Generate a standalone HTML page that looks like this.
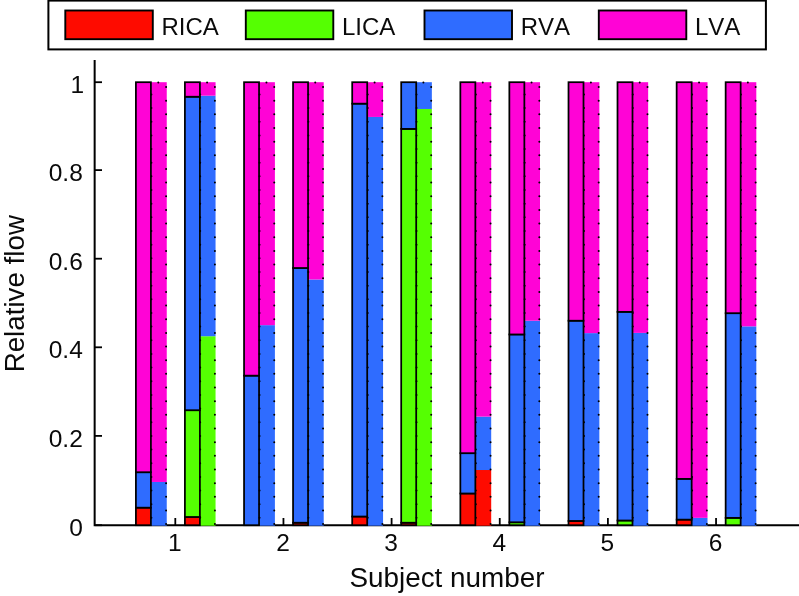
<!DOCTYPE html>
<html><head><meta charset="utf-8"><title>Relative flow</title>
<style>
html,body{margin:0;padding:0;background:#fff;}
body{width:799px;height:596px;overflow:hidden;}
svg{display:block;}
text{font-family:"Liberation Sans",Arial,sans-serif;fill:#0a0a0a;font-kerning:none;}
</style></head><body>
<svg width="799" height="596" viewBox="0 0 799 596">
<rect width="799" height="596" fill="#fff"/>
<path d="M94.65 60V525.2H799" stroke="#000" stroke-width="2" fill="none"/>
<rect x="150.80" y="481.97" width="15.95" height="43.73" fill="#2f6cff"/>
<rect x="150.80" y="82.20" width="15.95" height="399.77" fill="#ff03d6"/>
<rect x="135.90" y="507.67" width="15.00" height="17.53" fill="#fe0b00" stroke="#000" stroke-width="1.75"/>
<rect x="135.90" y="472.23" width="15.00" height="35.44" fill="#2f6cff" stroke="#000" stroke-width="1.75"/>
<rect x="135.90" y="82.20" width="15.00" height="390.03" fill="#ff03d6" stroke="#000" stroke-width="1.75"/>
<rect x="199.60" y="336.23" width="15.95" height="189.47" fill="#55ff02"/>
<rect x="199.60" y="95.68" width="15.95" height="240.55" fill="#2f6cff"/>
<rect x="199.60" y="82.20" width="15.95" height="13.48" fill="#ff03d6"/>
<rect x="184.90" y="516.97" width="15.00" height="8.23" fill="#fe0b00" stroke="#000" stroke-width="1.75"/>
<rect x="184.90" y="410.21" width="15.00" height="106.76" fill="#55ff02" stroke="#000" stroke-width="1.75"/>
<rect x="184.90" y="96.74" width="15.00" height="313.47" fill="#2f6cff" stroke="#000" stroke-width="1.75"/>
<rect x="184.90" y="82.20" width="15.00" height="14.54" fill="#ff03d6" stroke="#000" stroke-width="1.75"/>
<path d="M151.40 94.40V525.20M166.10 87.00V525.20M158.30 82.50h1M200.20 94.40V525.20M214.90 87.00V525.20M207.10 82.50h1" stroke="#000" stroke-width="2" stroke-linecap="round" stroke-dasharray="0 13.66" fill="none"/>
<rect x="258.95" y="325.15" width="15.95" height="200.55" fill="#2f6cff"/>
<rect x="258.95" y="82.20" width="15.95" height="242.95" fill="#ff03d6"/>
<rect x="244.05" y="375.65" width="15.00" height="149.55" fill="#2f6cff" stroke="#000" stroke-width="1.75"/>
<rect x="244.05" y="82.20" width="15.00" height="293.45" fill="#ff03d6" stroke="#000" stroke-width="1.75"/>
<rect x="307.75" y="279.52" width="15.95" height="246.18" fill="#2f6cff"/>
<rect x="307.75" y="82.20" width="15.95" height="197.32" fill="#ff03d6"/>
<rect x="293.05" y="522.73" width="15.00" height="2.47" fill="#fe0b00" stroke="#000" stroke-width="1.75"/>
<rect x="293.05" y="268.00" width="15.00" height="254.72" fill="#2f6cff" stroke="#000" stroke-width="1.75"/>
<rect x="293.05" y="82.20" width="15.00" height="185.80" fill="#ff03d6" stroke="#000" stroke-width="1.75"/>
<path d="M259.55 94.40V525.20M274.25 87.00V525.20M266.45 82.50h1M308.35 94.40V525.20M323.05 87.00V525.20M315.25 82.50h1" stroke="#000" stroke-width="2" stroke-linecap="round" stroke-dasharray="0 13.66" fill="none"/>
<rect x="367.10" y="116.94" width="15.95" height="408.76" fill="#2f6cff"/>
<rect x="367.10" y="82.20" width="15.95" height="34.74" fill="#ff03d6"/>
<rect x="352.20" y="516.53" width="15.00" height="8.67" fill="#fe0b00" stroke="#000" stroke-width="1.75"/>
<rect x="352.20" y="103.65" width="15.00" height="412.88" fill="#2f6cff" stroke="#000" stroke-width="1.75"/>
<rect x="352.20" y="82.20" width="15.00" height="21.45" fill="#ff03d6" stroke="#000" stroke-width="1.75"/>
<rect x="415.90" y="108.97" width="15.95" height="416.73" fill="#55ff02"/>
<rect x="415.90" y="82.20" width="15.95" height="26.77" fill="#2f6cff"/>
<rect x="401.20" y="522.73" width="15.00" height="2.47" fill="#fe0b00" stroke="#000" stroke-width="1.75"/>
<rect x="401.20" y="128.90" width="15.00" height="393.83" fill="#55ff02" stroke="#000" stroke-width="1.75"/>
<rect x="401.20" y="82.20" width="15.00" height="46.70" fill="#2f6cff" stroke="#000" stroke-width="1.75"/>
<path d="M367.70 94.40V525.20M382.40 87.00V525.20M374.60 82.50h1M416.50 94.40V525.20M431.20 87.00V525.20M423.40 82.50h1" stroke="#000" stroke-width="2" stroke-linecap="round" stroke-dasharray="0 13.66" fill="none"/>
<rect x="475.25" y="470.01" width="15.95" height="55.69" fill="#fe0b00"/>
<rect x="475.25" y="416.63" width="15.95" height="53.38" fill="#2f6cff"/>
<rect x="475.25" y="82.20" width="15.95" height="334.43" fill="#ff03d6"/>
<rect x="460.35" y="493.49" width="15.00" height="31.71" fill="#fe0b00" stroke="#000" stroke-width="1.75"/>
<rect x="460.35" y="453.18" width="15.00" height="40.31" fill="#2f6cff" stroke="#000" stroke-width="1.75"/>
<rect x="460.35" y="82.20" width="15.00" height="370.98" fill="#ff03d6" stroke="#000" stroke-width="1.75"/>
<rect x="524.05" y="320.72" width="15.95" height="204.98" fill="#2f6cff"/>
<rect x="524.05" y="82.20" width="15.95" height="238.52" fill="#ff03d6"/>
<rect x="509.35" y="522.28" width="15.00" height="2.92" fill="#55ff02" stroke="#000" stroke-width="1.75"/>
<rect x="509.35" y="334.45" width="15.00" height="187.83" fill="#2f6cff" stroke="#000" stroke-width="1.75"/>
<rect x="509.35" y="82.20" width="15.00" height="252.25" fill="#ff03d6" stroke="#000" stroke-width="1.75"/>
<path d="M475.85 94.40V525.20M490.55 87.00V525.20M482.75 82.50h1M524.65 94.40V525.20M539.35 87.00V525.20M531.55 82.50h1" stroke="#000" stroke-width="2" stroke-linecap="round" stroke-dasharray="0 13.66" fill="none"/>
<rect x="583.40" y="333.12" width="15.95" height="192.58" fill="#2f6cff"/>
<rect x="583.40" y="82.20" width="15.95" height="250.92" fill="#ff03d6"/>
<rect x="568.50" y="520.96" width="15.00" height="4.24" fill="#fe0b00" stroke="#000" stroke-width="1.75"/>
<rect x="568.50" y="320.72" width="15.00" height="200.24" fill="#2f6cff" stroke="#000" stroke-width="1.75"/>
<rect x="568.50" y="82.20" width="15.00" height="238.52" fill="#ff03d6" stroke="#000" stroke-width="1.75"/>
<rect x="632.20" y="332.90" width="15.95" height="192.80" fill="#2f6cff"/>
<rect x="632.20" y="82.20" width="15.95" height="250.70" fill="#ff03d6"/>
<rect x="617.50" y="520.51" width="15.00" height="4.69" fill="#55ff02" stroke="#000" stroke-width="1.75"/>
<rect x="617.50" y="311.86" width="15.00" height="208.65" fill="#2f6cff" stroke="#000" stroke-width="1.75"/>
<rect x="617.50" y="82.20" width="15.00" height="229.66" fill="#ff03d6" stroke="#000" stroke-width="1.75"/>
<path d="M584.00 94.40V525.20M598.70 87.00V525.20M590.90 82.50h1M632.80 94.40V525.20M647.50 87.00V525.20M639.70 82.50h1" stroke="#000" stroke-width="2" stroke-linecap="round" stroke-dasharray="0 13.66" fill="none"/>
<rect x="691.55" y="517.86" width="15.95" height="7.85" fill="#2f6cff"/>
<rect x="691.55" y="82.20" width="15.95" height="435.65" fill="#ff03d6"/>
<rect x="676.65" y="519.63" width="15.00" height="5.57" fill="#fe0b00" stroke="#000" stroke-width="1.75"/>
<rect x="676.65" y="478.87" width="15.00" height="40.76" fill="#2f6cff" stroke="#000" stroke-width="1.75"/>
<rect x="676.65" y="82.20" width="15.00" height="396.67" fill="#ff03d6" stroke="#000" stroke-width="1.75"/>
<rect x="740.35" y="326.35" width="15.95" height="199.35" fill="#2f6cff"/>
<rect x="740.35" y="82.20" width="15.95" height="244.15" fill="#ff03d6"/>
<rect x="725.65" y="517.86" width="15.00" height="7.35" fill="#55ff02" stroke="#000" stroke-width="1.75"/>
<rect x="725.65" y="313.19" width="15.00" height="204.67" fill="#2f6cff" stroke="#000" stroke-width="1.75"/>
<rect x="725.65" y="82.20" width="15.00" height="230.99" fill="#ff03d6" stroke="#000" stroke-width="1.75"/>
<path d="M692.15 94.40V525.20M706.85 87.00V525.20M699.05 82.50h1M740.95 94.40V525.20M755.65 87.00V525.20M747.85 82.50h1" stroke="#000" stroke-width="2" stroke-linecap="round" stroke-dasharray="0 13.66" fill="none"/>
<path d="M94.8 525.20h7.2" stroke="#000" stroke-width="1.8"/>
<text x="82.8" y="536.00" font-size="24.5" text-anchor="end">0</text>
<path d="M94.8 435.90h7.2" stroke="#000" stroke-width="1.8"/>
<text x="82.8" y="446.70" font-size="24.5" text-anchor="end">0.2</text>
<path d="M94.8 347.30h7.2" stroke="#000" stroke-width="1.8"/>
<text x="82.8" y="358.10" font-size="24.5" text-anchor="end">0.4</text>
<path d="M94.8 258.70h7.2" stroke="#000" stroke-width="1.8"/>
<text x="82.8" y="269.50" font-size="24.5" text-anchor="end">0.6</text>
<path d="M94.8 170.10h7.2" stroke="#000" stroke-width="1.8"/>
<text x="82.8" y="180.90" font-size="24.5" text-anchor="end">0.8</text>
<path d="M94.8 82.20h7.2" stroke="#000" stroke-width="1.8"/>
<text x="84.2" y="93.00" font-size="24.5" text-anchor="end">1</text>
<path d="M175.30 525.2v-7.2" stroke="#000" stroke-width="1.8"/>
<text x="174.80" y="551.0" font-size="24.5" text-anchor="middle">1</text>
<path d="M283.45 525.2v-7.2" stroke="#000" stroke-width="1.8"/>
<text x="282.95" y="551.0" font-size="24.5" text-anchor="middle">2</text>
<path d="M391.60 525.2v-7.2" stroke="#000" stroke-width="1.8"/>
<text x="391.10" y="551.0" font-size="24.5" text-anchor="middle">3</text>
<path d="M499.75 525.2v-7.2" stroke="#000" stroke-width="1.8"/>
<text x="499.25" y="551.0" font-size="24.5" text-anchor="middle">4</text>
<path d="M607.90 525.2v-7.2" stroke="#000" stroke-width="1.8"/>
<text x="607.40" y="551.0" font-size="24.5" text-anchor="middle">5</text>
<path d="M716.05 525.2v-7.2" stroke="#000" stroke-width="1.8"/>
<text x="715.55" y="551.0" font-size="24.5" text-anchor="middle">6</text>
<text x="447" y="586.9" font-size="27.85" text-anchor="middle">Subject number</text>
<text transform="translate(23.8 293.7) rotate(-90)" font-size="27.75" text-anchor="middle">Relative flow</text>
<rect x="48.4" y="0.6" width="717.5" height="48.8" fill="#fff" stroke="#000" stroke-width="2"/>
<rect x="65.3" y="10.5" width="87.5" height="28.7" fill="#fe0b00" stroke="#000" stroke-width="1.9"/>
<text x="161.5" y="35.4" font-size="24">RICA</text>
<rect x="245.8" y="10.5" width="87.5" height="28.7" fill="#55ff02" stroke="#000" stroke-width="1.9"/>
<text x="342.0" y="35.4" font-size="24">LICA</text>
<rect x="424.5" y="10.5" width="87.5" height="28.7" fill="#2f6cff" stroke="#000" stroke-width="1.9"/>
<text x="520.7" y="35.4" font-size="24">RVA</text>
<rect x="598.8" y="10.5" width="87.5" height="28.7" fill="#ff03d6" stroke="#000" stroke-width="1.9"/>
<text x="695.0" y="35.4" font-size="24">LVA</text>
</svg>
</body></html>
